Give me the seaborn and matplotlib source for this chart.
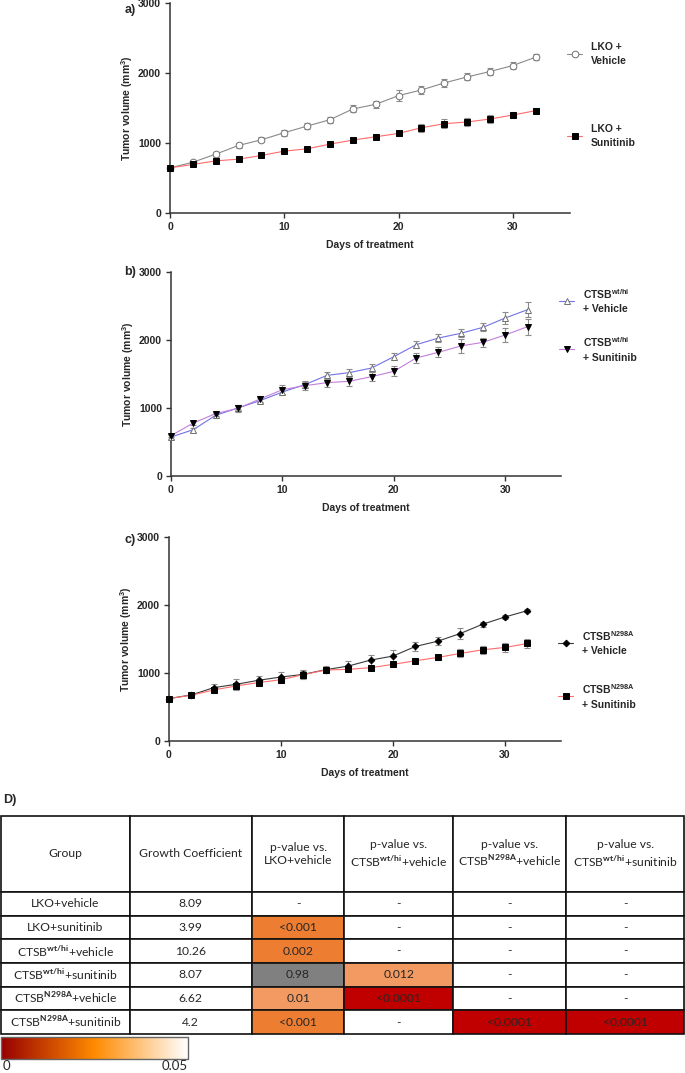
import matplotlib
matplotlib.use('Agg')
import matplotlib.pyplot as plt
import pandas as pd
import seaborn as sns
from matplotlib.colors import LinearSegmentedColormap, Normalize
from matplotlib.cm import ScalarMappable
from matplotlib.lines import Line2D

# ---- data ----
days = [0, 2, 4, 6, 8, 10, 12, 14, 16, 18, 20, 22, 24, 26, 28, 30, 32]

lko_veh = [645, 725, 841, 965, 1046, 1147, 1242, 1333, 1486, 1553, 1677, 1758, 1858, 1944, 2021, 2107, 2226]
lko_veh_sem = [15, 30, 35, 40, 35, 40, 40, 45, 50, 50, 75, 60, 55, 50, 50, 55, 45]
lko_sun = [645, 693, 745, 769, 822, 884, 917, 984, 1042, 1089, 1137, 1218, 1276, 1300, 1343, 1400, 1462]
lko_sun_sem = [20, 25, 20, 25, 25, 25, 30, 30, 30, 35, 35, 60, 60, 55, 55, 45, 40]

wt_veh = [573, 681, 892, 1000, 1108, 1235, 1343, 1480, 1520, 1588, 1755, 1931, 2029, 2098, 2186, 2324, 2446]
wt_veh_sem = [30, 30, 40, 45, 40, 40, 50, 55, 50, 55, 50, 50, 60, 60, 60, 90, 110]
wt_sun = [593, 779, 917, 995, 1132, 1270, 1328, 1373, 1392, 1461, 1539, 1735, 1819, 1912, 1966, 2074, 2196]
wt_sun_sem = [25, 30, 30, 50, 50, 70, 60, 60, 65, 65, 75, 70, 75, 100, 70, 100, 120]

n298a_veh = [624, 678, 785, 834, 893, 941, 980, 1049, 1102, 1190, 1249, 1390, 1468, 1580, 1717, 1824, 1917]
n298a_veh_sem = [20, 25, 60, 80, 70, 70, 60, 50, 70, 70, 90, 70, 60, 80, 40, 25, 20]
n298a_sun = [624, 673, 751, 810, 859, 902, 976, 1044, 1054, 1078, 1127, 1180, 1229, 1288, 1341, 1376, 1434]
n298a_sun_sem = [20, 25, 45, 50, 45, 45, 60, 50, 40, 40, 35, 30, 40, 60, 60, 70, 60]

groups = ['LKO+vehicle', 'LKO+sunitinib', r'CTSB$^{\mathrm{wt/hi}}$+vehicle',
          r'CTSB$^{\mathrm{wt/hi}}$+sunitinib', r'CTSB$^{\mathrm{N298A}}$+vehicle',
          r'CTSB$^{\mathrm{N298A}}$+sunitinib']
growth = ['8.09', '3.99', '10.26', '8.07', '6.62', '4.2']
p_lko_veh = ['-', '<0.001', '0.002', '0.98', '0.01', '<0.001']
p_wt_veh = ['-', '-', '-', '0.012', '<0.0001', '-']
p_n298a_veh = ['-', '-', '-', '-', '-', '<0.0001']
p_wt_sun = ['-', '-', '-', '-', '-', '<0.0001']
header = ['Group', 'Growth Coefficient', 'p-value vs.\nLKO+vehicle',
          'p-value vs.\n' + r'CTSB$^{\mathrm{wt/hi}}$+vehicle',
          'p-value vs.\n' + r'CTSB$^{\mathrm{N298A}}$+vehicle',
          'p-value vs.\n' + r'CTSB$^{\mathrm{wt/hi}}$+sunitinib']

# ---- style ----
sns.set_theme(style='ticks')
plt.rcParams['font.family'] = ['Liberation Sans', 'DejaVu Sans']
plt.rcParams['font.weight'] = 'bold'
plt.rcParams['axes.labelweight'] = 'bold'
plt.rcParams['mathtext.fontset'] = 'custom'
plt.rcParams['mathtext.rm'] = 'Lato'
plt.rcParams['mathtext.bf'] = 'Liberation Sans:bold'

W, H = 685, 1073
fig = plt.figure(figsize=(W / 100, H / 100), dpi=100)


def px_axes(left, top, right, bottom):
    return fig.add_axes([left / W, 1 - bottom / H, (right - left) / W, (bottom - top) / H])


def panel(ax, series, labels, anchor, spacing):
    handles = []
    for (mean, sem), st in series:
        df = pd.DataFrame({'day': days, 'vol': mean})
        ax.errorbar(days, mean, yerr=sem, fmt='none', ecolor='#8c8c8c', elinewidth=0.8,
                    capsize=2.2, capthick=0.8, zorder=2, clip_on=False)
        sns.lineplot(data=df, x='day', y='vol', ax=ax, color=st['line'], lw=0.8,
                     marker=st['marker'], ms=st['ms'], mfc=st['mfc'], mec=st['mec'],
                     mew=0.7, zorder=3, clip_on=False, errorbar=None)
        handles.append(Line2D([], [], color=st['line'], lw=0.8, marker=st['marker'],
                              ms=st['ms'], mfc=st['mfc'], mec=st['mec'], mew=0.7))
    ax.set_xlim(0, 35)
    ax.set_ylim(0, 3000)
    ax.set_xticks([0, 10, 20, 30])
    ax.set_yticks([0, 1000, 2000, 3000])
    ax.tick_params(labelsize=7.5, length=3.5, width=1, pad=3, color='#333333')
    for sp in ['left', 'bottom']:
        ax.spines[sp].set_color('#333333')
        ax.spines[sp].set_linewidth(1.1)
    sns.despine(ax=ax)
    ax.set_xlabel('Days of treatment', fontsize=7.5, labelpad=6)
    ax.set_ylabel(r'Tumor volume (mm$^{\mathbf{3}}$)', fontsize=7.5, labelpad=2)
    leg = ax.legend(handles, labels, loc='upper left',
                    bbox_to_anchor=(anchor[0] / W, 1 - anchor[1] / H),
                    bbox_transform=fig.transFigure, frameon=False, fontsize=7.5,
                    handlelength=1.45, handletextpad=0.85, labelspacing=spacing,
                    borderpad=0, borderaxespad=0)
    for t in leg.get_texts():
        t.set_linespacing(1.45)


open_gray = dict(mfc='white', mec='#707070')
filled = dict(mfc='black', mec='black')

ax_a = px_axes(170, 3, 570, 213)
panel(ax_a,
      [((lko_veh, lko_veh_sem), dict(line='#8a8a8a', marker='o', ms=4.8, **open_gray)),
       ((lko_sun, lko_sun_sem), dict(line='#ff6b6b', marker='s', ms=4.8, **filled))],
      ['LKO +\nVehicle', 'LKO +\nSunitinib'], (567, 42), 5.6)

ax_b = px_axes(171, 272, 561, 476)
panel(ax_b,
      [((wt_veh, wt_veh_sem), dict(line='#7272e6', marker='^', ms=4.8, **open_gray)),
       ((wt_sun, wt_sun_sem), dict(line='#c47fdc', marker='v', ms=4.8, **filled))],
      [r'CTSB$^{\mathbf{wt/hi}}$' + '\n+ Vehicle', r'CTSB$^{\mathbf{wt/hi}}$' + '\n+ Sunitinib'],
      (559, 287), 2.0)

ax_c = px_axes(169, 537, 561, 741)
panel(ax_c,
      [((n298a_veh, n298a_veh_sem), dict(line='#3a3a3a', marker='D', ms=3.4, **filled)),
       ((n298a_sun, n298a_sun_sem), dict(line='#ff6b6b', marker='s', ms=4.8, **filled))],
      [r'CTSB$^{\mathbf{N298A}}$' + '\n+ Vehicle', r'CTSB$^{\mathbf{N298A}}$' + '\n+ Sunitinib'],
      (558, 629), 2.5)

for lab, x, y in [('a)', 130, 10), ('b)', 130, 272), ('c)', 130, 540), ('D)', 10, 800)]:
    fig.text(x / W, 1 - y / H, lab, ha='center', va='center', fontsize=9, weight='bold')


# ---- table ----
def p_color(p):
    if p == '-':
        return 'white'
    if p == '<0.0001':
        return '#c00000'
    val = float(p.lstrip('<'))
    if val < 0.005:
        return '#ed7d31'
    if val < 0.05:
        return '#f29a61'
    return '#808080'


pcols = [p_lko_veh, p_wt_veh, p_n298a_veh, p_wt_sun]
cells = [header] + [[groups[i], growth[i]] + [c[i] for c in pcols] for i in range(len(groups))]
colors = [['white'] * 6] + [['white', 'white'] + [p_color(c[i]) for c in pcols]
                            for i in range(len(groups))]
col_px = [129, 122, 93, 109, 113, 118]

ax_t = px_axes(1, 816, 684, 1034)
ax_t.axis('off')
tab = ax_t.table(cellText=cells, cellColours=colors,
                 colWidths=[c / sum(col_px) for c in col_px],
                 cellLoc='center', bbox=[0, 0, 1, 1])
tab.auto_set_font_size(False)
tab.set_fontsize(8.7)
for (r, c), cell in tab.get_celld().items():
    cell.set_height(3.2 if r == 0 else 1.0)
    cell.set_edgecolor('#111111')
    cell.set_linewidth(1.2)
    txt = cell.get_text()
    txt.set_fontfamily('Lato')
    txt.set_fontweight('normal')
    txt.set_linespacing(1.3)

# ---- colour scale ----
cmap = LinearSegmentedColormap.from_list('pscale', ['#960000', '#ff8a00', '#ffffff'])
ax_cb = px_axes(1, 1037, 188, 1059)
cb = fig.colorbar(ScalarMappable(norm=Normalize(0, 0.05), cmap=cmap), cax=ax_cb,
                  orientation='horizontal')
cb.set_ticks([])
cb.outline.set_edgecolor('#666666')
cb.outline.set_linewidth(1)
fig.text(3 / W, 1 - 1066 / H, '0', ha='left', va='center', fontsize=9.5,
         family='Lato', weight='normal')
fig.text(188 / W, 1 - 1066 / H, '0.05', ha='right', va='center', fontsize=9.5,
         family='Lato', weight='normal')

fig.savefig('out.png', dpi=100)
